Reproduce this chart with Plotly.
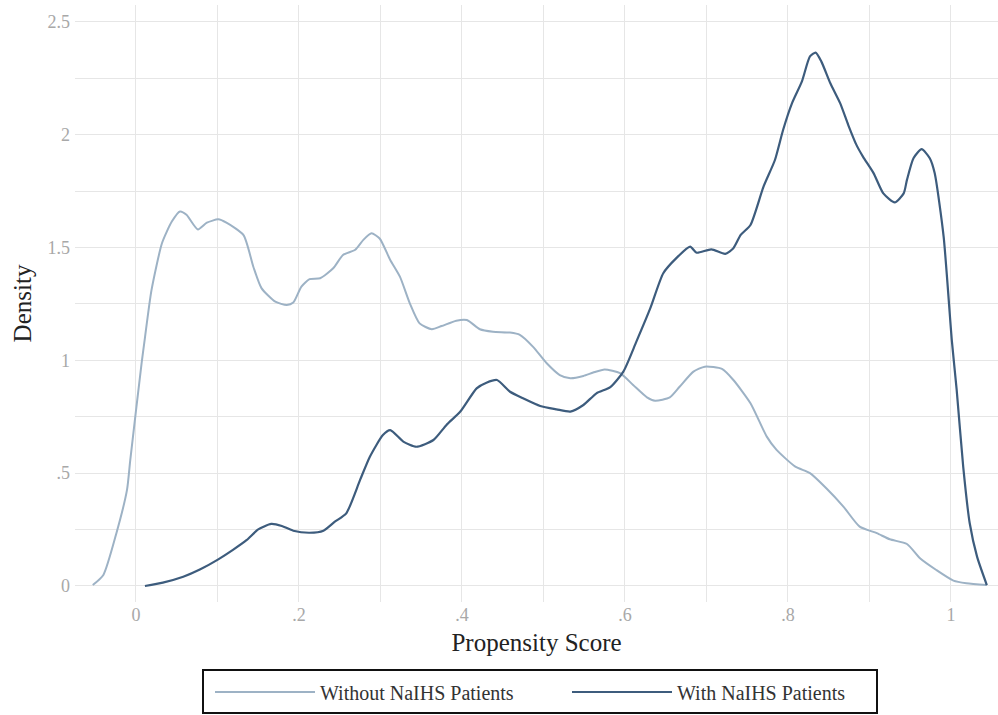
import plotly.graph_objects as go

# Without NaIHS Patients (light curve)
x_without = [-0.053, -0.040, -0.024, -0.011, -0.007, 0.007, 0.011, 0.019, 0.032, 0.044, 0.054, 0.062,
             0.076, 0.087, 0.101, 0.111, 0.132, 0.144, 0.154, 0.171, 0.185, 0.193, 0.203, 0.213,
             0.226, 0.242, 0.254, 0.269, 0.279, 0.289, 0.299, 0.312, 0.324, 0.336, 0.348, 0.363,
             0.375, 0.393, 0.406, 0.422, 0.438, 0.459, 0.471, 0.487, 0.504, 0.520, 0.533, 0.549,
             0.561, 0.575, 0.594, 0.610, 0.627, 0.637, 0.655, 0.667, 0.684, 0.698, 0.719, 0.733,
             0.754, 0.774, 0.786, 0.809, 0.827, 0.847, 0.868, 0.888, 0.909, 0.925, 0.946, 0.962,
             0.982, 1.003, 1.019, 1.044]
y_without = [0.004, 0.049, 0.234, 0.426, 0.558, 0.990, 1.100, 1.310, 1.520, 1.615, 1.660, 1.645,
             1.580, 1.610, 1.625, 1.610, 1.555, 1.415, 1.320, 1.260, 1.245, 1.256, 1.327, 1.360,
             1.364, 1.408, 1.467, 1.490, 1.534, 1.563, 1.540, 1.445, 1.370, 1.253, 1.164, 1.138,
             1.152, 1.176, 1.179, 1.138, 1.127, 1.123, 1.113, 1.061, 0.987, 0.935, 0.921, 0.931,
             0.946, 0.960, 0.943, 0.891, 0.836, 0.821, 0.836, 0.883, 0.950, 0.972, 0.962, 0.913,
             0.810, 0.662, 0.603, 0.529, 0.500, 0.433, 0.352, 0.263, 0.234, 0.207, 0.186, 0.123,
             0.071, 0.024, 0.012, 0.004]

# With NaIHS Patients (dark curve)
x_with = [0.011, 0.033, 0.058, 0.079, 0.101, 0.119, 0.136, 0.150, 0.166, 0.179, 0.193, 0.213,
          0.230, 0.244, 0.258, 0.275, 0.287, 0.303, 0.312, 0.328, 0.344, 0.365, 0.381, 0.398,
          0.418, 0.430, 0.443, 0.459, 0.475, 0.496, 0.516, 0.533, 0.549, 0.565, 0.582, 0.598,
          0.614, 0.631, 0.647, 0.663, 0.680, 0.688, 0.706, 0.723, 0.733, 0.742, 0.754, 0.770,
          0.784, 0.794, 0.805, 0.817, 0.827, 0.834, 0.841, 0.852, 0.864, 0.874, 0.884, 0.892,
          0.905, 0.917, 0.931, 0.942, 0.946, 0.954, 0.964, 0.974, 0.980, 0.991, 1.001, 1.007,
          1.015, 1.023, 1.032, 1.044]
y_with = [0.000, 0.015, 0.041, 0.074, 0.118, 0.160, 0.204, 0.251, 0.275, 0.266, 0.245, 0.236,
          0.245, 0.285, 0.322, 0.470, 0.573, 0.669, 0.691, 0.640, 0.617, 0.647, 0.714, 0.773,
          0.876, 0.901, 0.913, 0.861, 0.832, 0.798, 0.783, 0.773, 0.802, 0.854, 0.881, 0.950,
          1.083, 1.230, 1.386, 1.453, 1.504, 1.477, 1.492, 1.472, 1.497, 1.556, 1.600, 1.770,
          1.888, 2.021, 2.140, 2.235, 2.347, 2.364, 2.324, 2.228, 2.140, 2.043, 1.955, 1.903,
          1.830, 1.740, 1.700, 1.740, 1.800, 1.896, 1.936, 1.896, 1.830, 1.548, 1.090, 0.869,
          0.529, 0.278, 0.130, 0.004]

x_tickvals = [0, 0.2, 0.4, 0.6, 0.8, 1.0]
x_ticktext = ["0", ".2", ".4", ".6", ".8", "1"]
y_tickvals = [0, 0.5, 1.0, 1.5, 2.0, 2.5]
y_ticktext = ["0", ".5", "1", "1.5", "2", "2.5"]

LIGHT = "#9db2c5"
DARK = "#3d5c7d"
FONT = "Liberation Serif"
GRID = "#e6e6e6"
TICK = "#a8a8a8"

fig = go.Figure()
fig.add_trace(go.Scatter(x=x_without, y=y_without, mode="lines", name="Without NaIHS Patients",
                         line=dict(color=LIGHT, width=2, shape="spline", smoothing=0.6),
                         legend="legend"))
fig.add_trace(go.Scatter(x=x_with, y=y_with, mode="lines", name="With NaIHS Patients",
                         line=dict(color=DARK, width=2.2, shape="spline", smoothing=0.6),
                         legend="legend2"))

# legend frame (pixel positions converted to paper fractions of the plot area)
PL, PW, PB, PH = 75, 923, 602, 597
def px_x(p):
    return (p - PL) / PW
def px_y(p):
    return (PB - p) / PH

fig.add_shape(type="rect", xref="paper", yref="paper",
              x0=px_x(203), x1=px_x(877), y0=px_y(713), y1=px_y(670),
              line=dict(color="#111111", width=2), fillcolor="rgba(0,0,0,0)", layer="above")

legend_common = dict(orientation="h", yanchor="middle", y=px_y(692), xanchor="left",
                     bgcolor="rgba(0,0,0,0)", borderwidth=0,
                     font=dict(size=20, color="#333333"), itemwidth=100, entrywidth=0)

fig.update_layout(
    width=998, height=715,
    margin=dict(l=75, r=0, t=5, b=113),
    paper_bgcolor="white", plot_bgcolor="white",
    font=dict(family=FONT, color="#999999"),
    xaxis=dict(range=[-0.0748, 1.0577], tickvals=x_tickvals, ticktext=x_ticktext,
               showgrid=True, gridcolor=GRID, gridwidth=1, zeroline=False, showline=False,
               tickfont=dict(size=18, color=TICK), ticks="", ticklabelstandoff=0,
               minor=dict(dtick=0.1, tick0=0, showgrid=True, gridcolor=GRID, gridwidth=1),
               title=dict(text="Propensity Score", font=dict(size=25, color="#222222"), standoff=9)),
    yaxis=dict(range=[-0.071, 2.575], tickvals=y_tickvals, ticktext=y_ticktext,
               showgrid=True, gridcolor=GRID, gridwidth=1, zeroline=False, showline=False,
               tickfont=dict(size=18, color=TICK), ticks="", ticklabelstandoff=4,
               minor=dict(dtick=0.25, tick0=0, showgrid=True, gridcolor=GRID, gridwidth=1),
               title=dict(text="Density", font=dict(size=25, color="#222222"), standoff=8)),
    legend=dict(x=px_x(210), **legend_common),
    legend2=dict(x=px_x(567), **legend_common),
    showlegend=True,
)

fig.write_html("out.html")
